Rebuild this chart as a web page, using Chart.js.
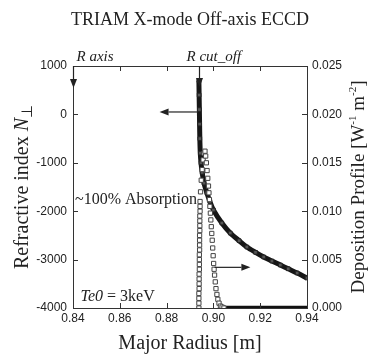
<!DOCTYPE html>
<html>
<head>
<meta charset="utf-8">
<script src="https://cdn.jsdelivr.net/npm/chart.js@4.4.1/dist/chart.umd.min.js"></script>
<style>
  html, body { margin: 0; padding: 0; background: #fff; }
  #wrap { width: 370px; height: 356px; position: relative; }
</style>
</head>
<body>
<div id="wrap"><canvas id="chart" width="370" height="356"></canvas></div>
<script>
// --- Data
const xTicks = [0.84, 0.86, 0.88, 0.90, 0.92, 0.94];
const nTicks = [1000, 0, -1000, -2000, -3000, -4000];
const pTicks = [0.025, 0.020, 0.015, 0.010, 0.005, 0.000];

// refractive index N_perp (left axis)
const nR   = [0.8938, 0.8939, 0.8940, 0.8941, 0.8942, 0.8944, 0.8947, 0.8952, 0.8960, 0.8972, 0.8985, 0.9000, 0.9036, 0.9072, 0.9110, 0.9143, 0.9180, 0.9215, 0.9250, 0.9286, 0.9320, 0.9358, 0.9400];
const nVal = [700, 400, 100, -200, -500, -800, -1000, -1200, -1420, -1620, -1800, -1975, -2244, -2450, -2610, -2740, -2850, -2946, -3030, -3112, -3190, -3277, -3380];

// deposition profile (right axis)
const pR = [
  0.8938, 0.8938, 0.8938, 0.8938, 0.8939, 0.8939, 0.8939, 0.8939, 0.8940, 0.8940, 0.8940, 0.8940,
  0.8941, 0.8941, 0.8941, 0.8941, 0.8942, 0.8942, 0.8942, 0.8942, 0.8943, 0.8943, 0.8943,
  0.8945, 0.8948, 0.8952, 0.8956, 0.8960, 0.8964, 0.8967, 0.8970, 0.8973, 0.8976, 0.8979, 0.8981,
  0.8983, 0.8985, 0.8987, 0.8989, 0.8991, 0.8993, 0.8995, 0.8997, 0.8999, 0.9001, 0.9003, 0.9005,
  0.9008, 0.9011, 0.9015, 0.9019, 0.9024, 0.9030, 0.9037, 0.9045, 0.9400
];
const pVal = [
  0.0000, 0.0005, 0.0010, 0.0015, 0.0020, 0.0025, 0.0030, 0.0035, 0.0040, 0.0045, 0.0050, 0.0055,
  0.0060, 0.0065, 0.0070, 0.0075, 0.0080, 0.0085, 0.0090, 0.0095, 0.0100, 0.0105, 0.0110,
  0.0120, 0.0132, 0.0143, 0.0153, 0.0160, 0.0162, 0.0157, 0.0150, 0.0142, 0.0134, 0.0126, 0.0119,
  0.0112, 0.0105, 0.0098, 0.0091, 0.0084, 0.0077, 0.0070, 0.0062, 0.0054, 0.0046, 0.0040, 0.0034,
  0.0027, 0.0020, 0.0014, 0.0009, 0.0005, 0.0002, 0.0001, 0.0000, 0.0000
];

const SERIF = '"Liberation Serif", "Times New Roman", serif';
const SANS = '"Liberation Sans", Arial, sans-serif';
const INK = "#222";

function pts(xs, ys){ return xs.map((x, i) => ({ x, y: ys[i] })); }

// --- Helpers for the overlay
function arrow(ctx, x1, y1, x2, y2){
  const ang = Math.atan2(y2 - y1, x2 - x1);
  const hl = 9, hw = 3.5;
  ctx.beginPath();
  ctx.moveTo(x1, y1);
  ctx.lineTo(x2 - Math.cos(ang) * hl, y2 - Math.sin(ang) * hl);
  ctx.stroke();
  ctx.beginPath();
  ctx.moveTo(x2, y2);
  ctx.lineTo(x2 - Math.cos(ang) * hl - Math.sin(ang) * hw, y2 - Math.sin(ang) * hl + Math.cos(ang) * hw);
  ctx.lineTo(x2 - Math.cos(ang) * hl + Math.sin(ang) * hw, y2 - Math.sin(ang) * hl - Math.cos(ang) * hw);
  ctx.closePath();
  ctx.fill();
}

// draw a run of [text, font, dy] pieces starting at x
function runs(ctx, parts, x, y){
  for (const [t, f, dy] of parts){
    ctx.font = f;
    ctx.fillText(t, x, y + (dy || 0));
    x += ctx.measureText(t).width;
  }
  return x;
}
function runsWidth(ctx, parts){
  let w = 0;
  for (const [t, f] of parts){ ctx.font = f; w += ctx.measureText(t).width; }
  return w;
}

const overlay = {
  id: "overlay",
  afterDraw(chart){
    const { ctx, chartArea: a, scales } = chart;
    const sx = scales.x, sy = scales.y, sp = scales.y2;
    ctx.save();
    ctx.strokeStyle = "#333";
    ctx.fillStyle = INK;
    ctx.lineWidth = 1;

    // frame
    ctx.strokeRect(Math.round(a.left) + 0.5, Math.round(a.top) + 0.5,
      Math.round(a.right) - Math.round(a.left), Math.round(a.bottom) - Math.round(a.top));

    // inward ticks
    ctx.beginPath();
    for (const v of xTicks){
      const px = Math.round(sx.getPixelForValue(v)) + 0.5;
      ctx.moveTo(px, a.top); ctx.lineTo(px, a.top + 5);
      ctx.moveTo(px, a.bottom); ctx.lineTo(px, a.bottom - 5);
    }
    for (const v of nTicks){
      const py = Math.round(sy.getPixelForValue(v)) + 0.5;
      ctx.moveTo(a.left, py); ctx.lineTo(a.left + 5, py);
    }
    for (const v of pTicks){
      const py = Math.round(sp.getPixelForValue(v)) + 0.5;
      ctx.moveTo(a.right, py); ctx.lineTo(a.right - 5, py);
    }
    ctx.stroke();

    // title
    ctx.textBaseline = "alphabetic";
    ctx.textAlign = "center";
    ctx.font = "18px " + SERIF;
    ctx.fillText("TRIAM X-mode Off-axis ECCD", 190, 25);

    // x axis title
    ctx.font = "20px " + SERIF;
    ctx.fillText("Major Radius [m]", (a.left + a.right) / 2, 349);

    ctx.textAlign = "left";
    // left axis title (rotated)
    const cy = (a.top + a.bottom) / 2;
    const leftParts = [["Refractive index ", "20px " + SERIF], ["N", "italic 20px " + SERIF], ["\u22a5", "15px " + SERIF, 4]];
    ctx.save();
    ctx.translate(28, cy);
    ctx.rotate(-Math.PI / 2);
    runs(ctx, leftParts, -runsWidth(ctx, leftParts) / 2, 0);
    ctx.restore();

    // right axis title (rotated)
    const rightParts = [["Deposition Profile [W", "19px " + SERIF], ["-1", "11px " + SERIF, -8], [" m", "19px " + SERIF], ["-2", "11px " + SERIF, -8], ["]", "19px " + SERIF]];
    ctx.save();
    ctx.translate(364, cy);
    ctx.rotate(-Math.PI / 2);
    runs(ctx, rightParts, -runsWidth(ctx, rightParts) / 2, 0);
    ctx.restore();

    // annotations
    runs(ctx, [["R axis", "italic 15px " + SERIF]], sx.getPixelForValue(0.8415), 61);
    runs(ctx, [["R cut_off", "italic 15px " + SERIF]], sx.getPixelForValue(0.8885), 61);
    runs(ctx, [["~100% Absorption", "16px " + SERIF]], a.left + 2, 204);
    runs(ctx, [["Te0", "italic 16px " + SERIF], [" = 3keV", "16px " + SERIF]], sx.getPixelForValue(0.8432), 301);

    ctx.lineWidth = 1.2;
    ctx.strokeStyle = INK;
    const xAxis = Math.round(sx.getPixelForValue(0.84)) + 0.5;
    arrow(ctx, xAxis, a.top, xAxis, a.top + 22);
    const xCut = Math.round(sx.getPixelForValue(0.8937)) + 0.5;
    arrow(ctx, xCut, a.top, xCut, a.top + 21);
    const yN = sy.getPixelForValue(50);
    arrow(ctx, sx.getPixelForValue(0.8935), yN, sx.getPixelForValue(0.877), yN);
    const yP = sp.getPixelForValue(0.0042);
    arrow(ctx, sx.getPixelForValue(0.9005), yP, sx.getPixelForValue(0.9158), yP);

    ctx.restore();
  }
};

const isTail = (c) => c.p0.parsed.y === 0 && c.p1.parsed.y === 0;

new Chart(document.getElementById("chart"), {
  type: "line",
  data: {
    datasets: [
      {
        label: "Deposition profile",
        data: pts(pR, pVal),
        yAxisID: "y2",
        borderColor: "#111",
        borderWidth: 4.5,
        segment: {
          borderWidth: (c) => isTail(c) ? 4.5 : 0,
          borderColor: (c) => isTail(c) ? "#111" : "rgba(0,0,0,0)"
        },
        pointStyle: "rect",
        pointRadius: (c) => c.dataIndex === pR.length - 1 ? 0 : 3,
        pointBackgroundColor: "#fff",
        pointBorderColor: "#444",
        pointBorderWidth: 1,
        tension: 0
      },
      {
        label: "N perp",
        data: pts(nR, nVal),
        yAxisID: "y",
        borderColor: "#161616",
        borderWidth: 5,
        pointStyle: "rect",
        pointRadius: 2.6,
        pointBackgroundColor: "#555",
        pointBorderColor: "#222",
        pointBorderWidth: 1,
        tension: 0.3
      }
    ]
  },
  options: {
    responsive: false,
    animation: false,
    events: [],
    layout: { padding: { top: 66, left: 0, right: 0, bottom: 0 } },
    plugins: { legend: { display: false }, tooltip: { enabled: false } },
    scales: {
      x: {
        type: "linear",
        min: 0.84, max: 0.94,
        afterFit: (s) => { s.height = 48; },
        afterBuildTicks: (s) => { s.ticks = xTicks.map(v => ({ value: v })); },
        ticks: { font: { family: SANS, size: 12 }, color: INK, padding: 3, maxRotation: 0, callback: (v) => v.toFixed(2) },
        grid: { display: false, drawTicks: false },
        border: { display: false }
      },
      y: {
        position: "left",
        min: -4000, max: 1000,
        afterFit: (s) => { s.width = 73; },
        afterBuildTicks: (s) => { s.ticks = nTicks.map(v => ({ value: v })); },
        ticks: { font: { family: SANS, size: 12 }, color: INK, padding: 6, callback: (v) => String(v) },
        grid: { display: false, drawTicks: false },
        border: { display: false }
      },
      y2: {
        position: "right",
        min: 0, max: 0.025,
        afterFit: (s) => { s.width = 63; },
        afterBuildTicks: (s) => { s.ticks = pTicks.map(v => ({ value: v })); },
        ticks: { font: { family: SANS, size: 12 }, color: INK, padding: 5, callback: (v) => v.toFixed(3) },
        grid: { display: false, drawTicks: false },
        border: { display: false }
      }
    }
  },
  plugins: [overlay]
});
</script>
</body>
</html>
